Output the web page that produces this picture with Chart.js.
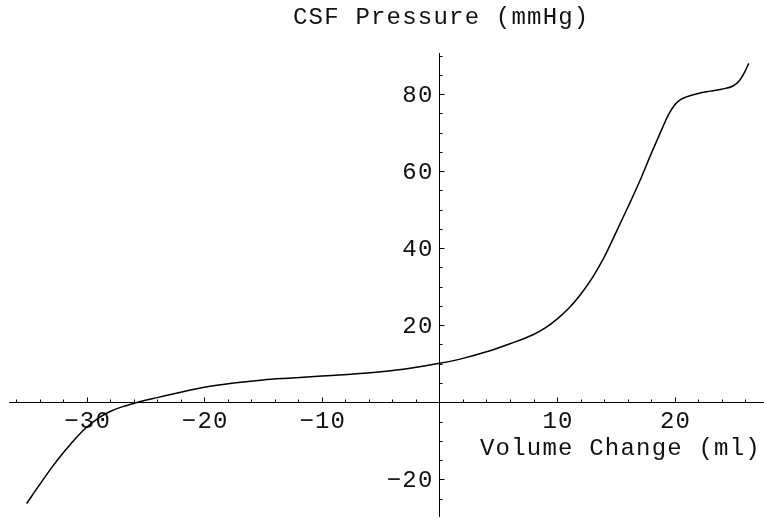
<!DOCTYPE html>
<html>
<head>
<meta charset="utf-8">
<script src="https://cdn.jsdelivr.net/npm/chart.js@4"></script>
<style>
  html, body { margin: 0; padding: 0; background: #fff; }
  #wrap { width: 764px; height: 518px; position: relative; }
</style>
</head>
<body>
<div id="wrap"><canvas id="csf-chart"></canvas></div>
<script>
// volume change (ml) and CSF pressure (mmHg)
const volume = [-35.1, -34, -33, -32, -31, -30, -29, -28, -27, -26, -25, -24, -22, -20, -17.5, -15, -12.5, -10, -7.5, -5, -2.5,
  0, 2, 4, 6, 8, 9, 10, 11, 12, 13, 14, 15, 16, 17, 18, 18.5, 19, 19.5, 20, 20.5, 21, 22, 23, 24, 25, 25.5, 26, 26.3];
const pressure = [-26.3, -21.4, -17.1, -13.2, -9.6, -6.5, -4.1, -2.4, -1.2, -0.3, 0.5, 1.2, 2.6, 3.9, 5.0, 5.8, 6.3, 6.8, 7.3, 7.9, 8.8,
  10.1, 11.4, 13.1, 15.2, 17.6, 19.3, 21.6, 24.4, 28.0, 32.3, 37.6, 44.0, 50.5, 57.2, 64.5, 68.0, 71.5, 74.8, 77.2, 78.6,
  79.3, 80.2, 80.8, 81.3, 82.2, 83.5, 86.0, 88.0];

const xTicks = [-30, -20, -10, 10, 20];
const yTicks = [-20, 20, 40, 60, 80];
const xMinorStep = 2;
const yMinorStep = 5;
const xRange = [-36.6, 27.6];
const yRange = [-29.8, 90.7];

const xTitle = 'Volume Change (ml)';
const yTitle = 'CSF Pressure (mmHg)';

const font = '24px "Liberation Mono", "DejaVu Sans Mono", monospace';

// axes through the origin, Mathematica style
const axesPlugin = {
    id: 'originAxes',
    beforeDatasetsDraw(chart) {
        const ctx = chart.ctx;
        const xs = chart.scales.x;
        const ys = chart.scales.y;
        const x0 = Math.round(xs.getPixelForValue(0)) + 0.5;
        const y0 = Math.round(ys.getPixelForValue(0)) + 0.5;
        const area = chart.chartArea;

        ctx.save();
        ctx.strokeStyle = '#000';
        ctx.lineWidth = 1;

        ctx.beginPath();
        ctx.moveTo(area.left, y0);
        ctx.lineTo(area.right, y0);
        ctx.moveTo(x0, area.top);
        ctx.lineTo(x0, area.bottom);
        ctx.stroke();

        // x ticks (pointing up)
        ctx.beginPath();
        for (let v = Math.ceil(xRange[0] / xMinorStep) * xMinorStep; v <= xRange[1]; v += xMinorStep) {
            if (v === 0) continue;
            const px = Math.round(xs.getPixelForValue(v)) + 0.5;
            const len = xTicks.includes(v) ? 5 : 3;
            ctx.moveTo(px, y0);
            ctx.lineTo(px, y0 - len);
        }
        // y ticks (pointing right)
        for (let v = Math.ceil(yRange[0] / yMinorStep) * yMinorStep; v <= yRange[1]; v += yMinorStep) {
            if (v === 0) continue;
            const py = Math.round(ys.getPixelForValue(v)) + 0.5;
            const len = yTicks.includes(v) ? 5 : 3;
            ctx.moveTo(x0, py);
            ctx.lineTo(x0 + len, py);
        }
        ctx.stroke();

        ctx.fillStyle = '#111';
        ctx.font = font;
        ctx.letterSpacing = '1.2px';

        ctx.textAlign = 'center';
        ctx.textBaseline = 'alphabetic';
        xTicks.forEach(v => {
            ctx.fillText(String(v).replace('-', '\u2212'), xs.getPixelForValue(v) + 1, y0 + 25);
        });

        ctx.textAlign = 'right';
        ctx.textBaseline = 'middle';
        yTicks.forEach(v => {
            ctx.fillText(String(v).replace('-', '\u2212'), x0 - 6, ys.getPixelForValue(v) + 1);
        });

        ctx.textAlign = 'left';
        ctx.textBaseline = 'alphabetic';
        ctx.fillText(xTitle, 480, 455);
        ctx.fillText(yTitle, 293, 23.5);
        ctx.restore();
    }
};

const ctx = document.getElementById('csf-chart').getContext('2d');

const csfChart = new Chart(ctx, {
    type: 'line',
    data: {
        datasets: [{
            data: volume.map((v, i) => ({ x: v, y: pressure[i] })),
            borderColor: '#000',
            borderWidth: 1.5,
            pointRadius: 0,
            fill: false,
            cubicInterpolationMode: 'monotone'
        }]
    },
    options: {
        responsive: true,
        maintainAspectRatio: false,
        animation: false,
        layout: { padding: { left: 9, right: 0, top: 53, bottom: 1 } },
        plugins: {
            legend: { display: false },
            tooltip: { enabled: false }
        },
        scales: {
            x: { type: 'linear', display: false, min: xRange[0], max: xRange[1] },
            y: { type: 'linear', display: false, min: yRange[0], max: yRange[1] }
        }
    },
    plugins: [axesPlugin]
});
</script>
</body>
</html>
